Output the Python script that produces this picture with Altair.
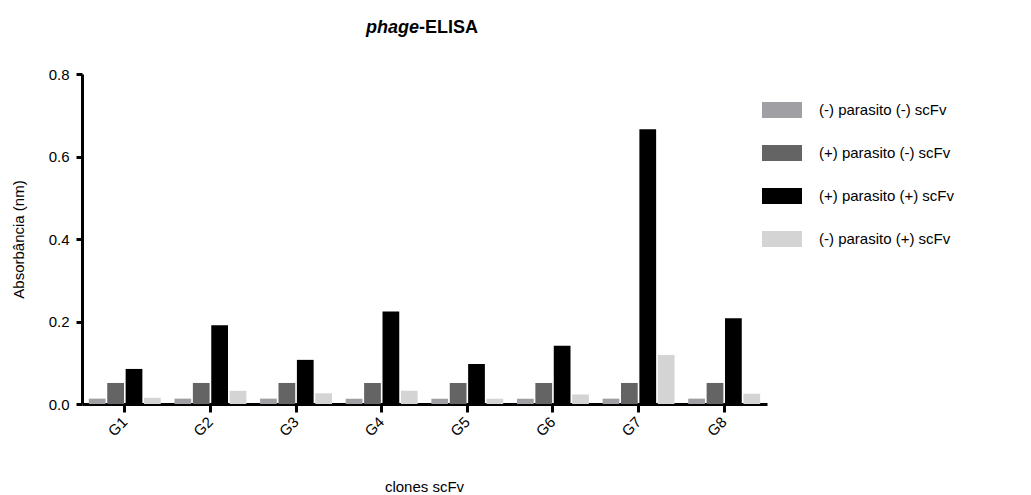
import altair as alt
import pandas as pd

clones = ["G1", "G2", "G3", "G4", "G5", "G6", "G7", "G8"]
series = [
    "(-) parasito (-) scFv",
    "(+) parasito (-) scFv",
    "(+) parasito (+) scFv",
    "(-) parasito (+) scFv",
]
neg_neg = [0.013, 0.013, 0.013, 0.013, 0.013, 0.013, 0.013, 0.013]
pos_neg = [0.051, 0.051, 0.051, 0.051, 0.051, 0.051, 0.051, 0.051]
pos_pos = [0.085, 0.191, 0.107, 0.224, 0.097, 0.141, 0.666, 0.208]
neg_pos = [0.015, 0.032, 0.026, 0.032, 0.013, 0.023, 0.119, 0.025]
colors = ["#a0a0a4", "#646464", "#000000", "#d4d4d4"]
y_ticks = [0.0, 0.2, 0.4, 0.6, 0.8]

rows = []
for s, vals in zip(series, [neg_neg, pos_neg, pos_pos, neg_pos]):
    for c, v in zip(clones, vals):
        rows.append({"clone": c, "serie": s, "value": v})
df = pd.DataFrame(rows)

FONT = "Liberation Sans"
rect_path = "M-1,-0.4H1V0.4H-1Z"

bars = alt.Chart(df).mark_bar().encode(
    x=alt.X(
        "clone:N",
        sort=clones,
        scale=alt.Scale(paddingInner=0.16, paddingOuter=0.08),
        axis=alt.Axis(
            title="clones scFv",
            labelAngle=-45,
            labelAlign="right",
            labelBaseline="middle",
            labelPadding=7,
            labelFont=FONT,
            labelFontSize=15,
            labelColor="#000",
            tickSize=8,
            tickWidth=3,
            tickColor="#000",
            domainWidth=3,
            domainColor="#000",
            grid=False,
            titleFont=FONT,
            titleFontSize=15,
            titleFontWeight="normal",
            titleColor="#000",
            titleX=342,
            titleY=82,
            titleBaseline="middle",
        ),
    ),
    xOffset=alt.XOffset(
        "serie:N", sort=series, scale=alt.Scale(paddingInner=0.09, paddingOuter=0)
    ),
    y=alt.Y(
        "value:Q",
        scale=alt.Scale(domain=[0, 0.8], nice=False),
        axis=alt.Axis(
            title="Absorbância (nm)",
            values=y_ticks,
            format=".1f",
            labelFont=FONT,
            labelFontSize=15,
            labelColor="#000",
            labelPadding=7,
            tickSize=6,
            tickWidth=3,
            tickColor="#000",
            domainWidth=3,
            domainColor="#000",
            grid=False,
            titleFont=FONT,
            titleFontSize=15,
            titleFontWeight="normal",
            titleColor="#000",
            titleX=-64,
            titleY=165,
            titleAngle=-90,
            titleAlign="center",
            titleBaseline="middle",
        ),
    ),
    color=alt.Color(
        "serie:N",
        sort=series,
        scale=alt.Scale(domain=series, range=colors),
        legend=alt.Legend(
            title=None,
            orient="none",
            legendX=680,
            legendY=16,
            symbolType=rect_path,
            symbolSize=1600,
            symbolStrokeWidth=0,
            labelFont=FONT,
            labelFontSize=15,
            labelColor="#000",
            labelOffset=17,
            labelLimit=300,
            rowPadding=15,
            padding=0,
        ),
    ),
)

t1 = alt.Chart(pd.DataFrame({"t": ["phage"]})).mark_text(
    font=FONT, fontSize=18, fontWeight="bold", fontStyle="italic",
    align="right", baseline="middle", color="#000",
).encode(text="t:N", x=alt.value(337), y=alt.value(-46))

t2 = alt.Chart(pd.DataFrame({"t": ["-ELISA"]})).mark_text(
    font=FONT, fontSize=18, fontWeight="bold",
    align="left", baseline="middle", color="#000",
).encode(text="t:N", x=alt.value(337), y=alt.value(-46))

chart = alt.layer(bars, t1, t2).properties(
    width=685,
    height=330,
    background="white",
    autosize=alt.AutoSizeParams(type="none"),
    padding={"left": 82, "top": 74, "right": 264, "bottom": 91},
).configure_view(stroke=None).configure_axis(grid=False)

chart.save("out.html", embed_options={"renderer": "svg", "actions": False})
